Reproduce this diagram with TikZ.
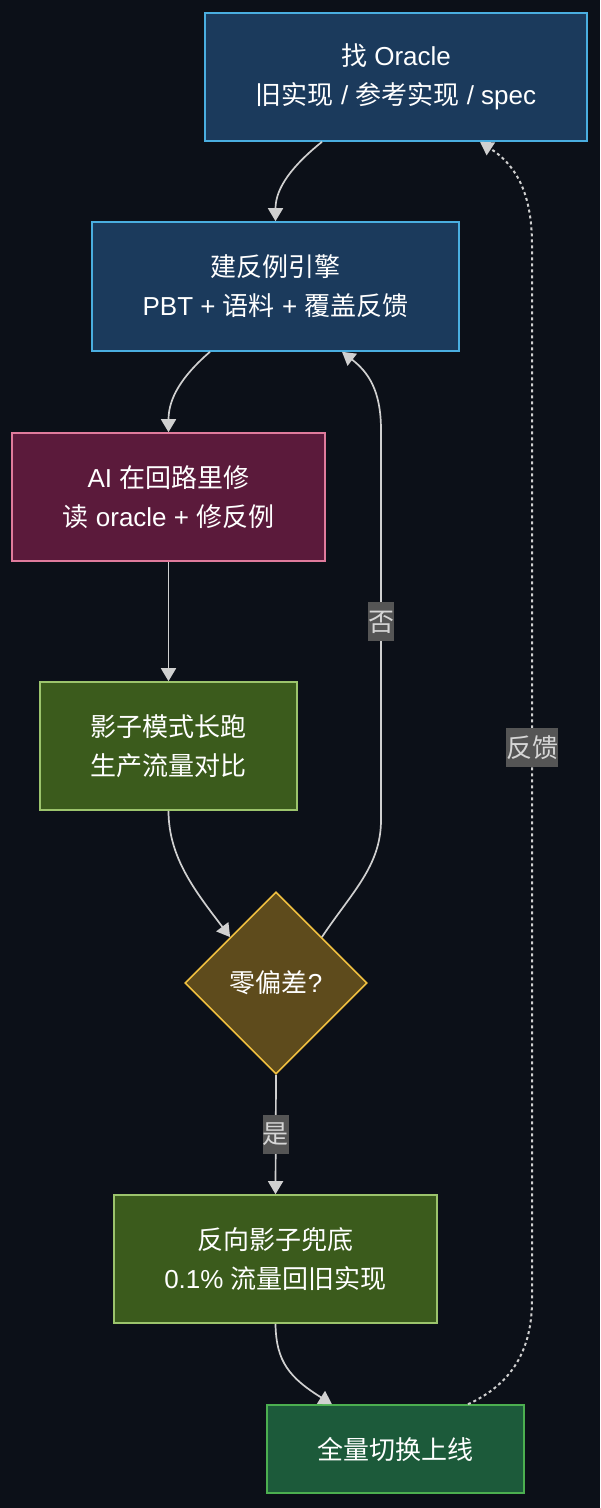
\documentclass[tikz,border=0pt]{standalone}
\usepackage{fontspec}
\setmainfont{Liberation Sans}
\newfontfamily\cjk{Noto Sans CJK SC}
\usepackage{tikz}
\usetikzlibrary{arrows.meta,shapes.geometric}
\definecolor{bgdark}{HTML}{0C1018}
\definecolor{bluefill}{HTML}{1B3A5C}
\definecolor{blueline}{HTML}{4AAEE0}
\definecolor{rosefill}{HTML}{5B1A3B}
\definecolor{roseline}{HTML}{E07B9C}
\definecolor{olivefill}{HTML}{3B5B1C}
\definecolor{oliveline}{HTML}{9CC46C}
\definecolor{goldfill}{HTML}{5E4B1C}
\definecolor{goldline}{HTML}{F0C040}
\definecolor{mintfill}{HTML}{1C5A3A}
\definecolor{mintline}{HTML}{4CAF50}
\definecolor{edgegray}{HTML}{D0D0D0}
\definecolor{lblgray}{HTML}{555555}
\definecolor{lbltext}{HTML}{D6D6D6}
\newcommand{\zh}[1]{{\cjk #1}}

\begin{document}
\begin{tikzpicture}[x=1pt,y=-1pt,
	box/.style={draw,line width=1.6pt,inner sep=0pt,align=center,text=white,font=\fontsize{26}{39}\selectfont},
	edge/.style={draw=edgegray,line width=1.7pt,-{Triangle[length=13pt,width=15pt]}},
	lbl/.style={fill=lblgray,text=lbltext,inner sep=0pt,minimum height=39pt,font=\fontsize{26}{39}\selectfont}]
		\fill[bgdark] (0,0) rectangle (600,1508);
		\useasboundingbox (0,0) rectangle (600,1508);
		\node[box,fill=bluefill,draw=blueline,minimum width=382pt,minimum height=128pt] (oracle) at (396,77) {\zh{找} Oracle\\\zh{旧实现} / \zh{参考实现} / spec};
		\node[box,fill=bluefill,draw=blueline,minimum width=367pt,minimum height=129pt] (engine) at (275.5,286.5) {\zh{建反例引擎}\\PBT + \zh{语料} + \zh{覆盖反馈}};
		\node[box,fill=rosefill,draw=roseline,minimum width=313pt,minimum height=128pt] (aifix) at (168.5,497) {AI \zh{在回路里修}\\\zh{读} oracle + \zh{修反例}};
		\node[box,fill=olivefill,draw=oliveline,minimum width=257pt,minimum height=128pt] (shadow) at (168.5,746) {\zh{影子模式长跑}\\\zh{生产流量对比}};
		\node[box,diamond,aspect=1,fill=goldfill,draw=goldline,minimum width=182pt,minimum height=182pt] (zero) at (276,983) {\zh{零偏差}?};
		\node[box,fill=olivefill,draw=oliveline,minimum width=323pt,minimum height=128pt] (reverse) at (275.5,1259) {\zh{反向影子兜底}\\0.1\% \zh{流量回旧实现}};
		\node[box,fill=mintfill,draw=mintline,minimum width=257pt,minimum height=88pt] (golive) at (395.5,1449) {\zh{全量切换上线}};
		\draw[edge] ([xshift=-74pt]oracle.south) .. controls (292,166) and (275.5,188) .. (engine.north);
		\draw[edge] ([xshift=-65.5pt]engine.south) .. controls (182,376) and (168.5,398) .. (aifix.north);
		\draw[edge] (aifix.south) -- (shadow.north);
		\draw[edge] (shadow.south) .. controls (168.5,858) and (196,892) .. (zero.north west);
		\draw[edge] (zero.north east) .. controls (352,892) and (381,866) .. (381,820) -- node[lbl,pos=0.508] (no) {\zh{否}} (381,430) .. controls (381,390) and (368,372) .. ([xshift=66.5pt]engine.south);
		\draw[edge] (zero.south) -- node[lbl] (yes) {\zh{是}} (reverse.north);
		\draw[edge] (reverse.south) .. controls (276,1362) and (290,1378) .. ([xshift=-63.5pt]golive.north);
		\draw[edge,line width=2pt,dash pattern=on 3pt off 3pt] ([xshift=72.5pt]golive.north) .. controls (512,1384) and (532,1350) .. (532,1300) -- node[lbl,pos=0.524] (fb) {\zh{反馈}} (532,245) .. controls (532,190) and (514,164) .. ([xshift=84pt]oracle.south);
\end{tikzpicture}
\end{document}
